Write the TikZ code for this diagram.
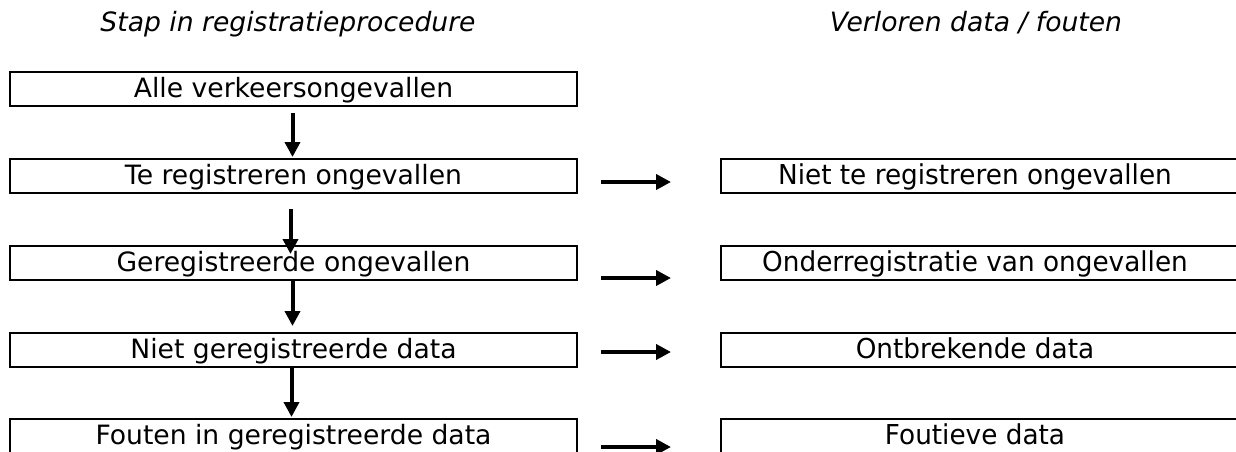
\documentclass[tikz,border=0pt]{standalone}
\usepackage{fontspec}
\setmainfont{DejaVu Sans}
\newfontfamily\narrowfont[FakeStretch=0.96]{DejaVu Sans}
\usetikzlibrary{arrows.meta}
\begin{document}
\begin{tikzpicture}[x=1pt,y=-1pt,
 lbox/.style={draw, line width=2pt, minimum width=567pt, minimum height=34pt, inner sep=0pt, font=\fontsize{26.6}{30}\selectfont, text height=20pt, text depth=4pt},
 rbox/.style={draw, line width=2pt, minimum width=530pt, minimum height=34pt, inner sep=0pt},
 rtext/.style={inner sep=0pt, font=\narrowfont\fontsize{27.4}{30}\selectfont, text height=20pt, text depth=4pt},
 head/.style={inner sep=0pt, font=\fontsize{26.6}{30}\selectfont\itshape, anchor=base},
 flow/.style={line width=4pt, -{Triangle[length=15pt,width=15pt]}}
]
\useasboundingbox (0,0) rectangle (1236,452);
\node[head] (h1) at (288,32) {Stap in registratieprocedure};
\node[head] (h2) at (976,32) {Verloren data / fouten};
\node[lbox] (l1) at (293.5,89) {Alle verkeersongevallen};
\node[lbox] (l2) at (293.5,176) {Te registreren ongevallen};
\node[lbox] (l3) at (293.5,263) {Geregistreerde ongevallen};
\node[lbox] (l4) at (293.5,350) {Niet geregistreerde data};
\node[lbox] (l5) at (293.5,436) {Fouten in geregistreerde data};
\node[rbox] (r2) at (986,176) {};
\node[rbox] (r3) at (986,263) {};
\node[rbox] (r4) at (986,350) {};
\node[rbox] (r5) at (986,436) {};
\node[rtext] (t2) at (975,176) {Niet te registreren ongevallen};
\node[rtext] (t3) at (975,263) {Onderregistratie van ongevallen};
\node[rtext] (t4) at (975,350) {Ontbrekende data};
\node[rtext] (t5) at (975,436) {Foutieve data};
\draw[flow] ([xshift=-1pt,yshift=-6pt]l1.south) -- ([xshift=-1pt,yshift=1pt]l2.north);
\draw[flow] ([xshift=-3pt,yshift=-15pt]l2.south) -- ([xshift=-3pt,yshift=-9pt]l3.north);
\draw[flow] ([xshift=-1pt]l3.south) -- ([xshift=-1pt,yshift=6pt]l4.north);
\draw[flow] ([xshift=-2pt,yshift=2pt]l4.south) -- ([xshift=-2pt,yshift=1pt]l5.north);
\draw[flow] ([xshift=23pt,yshift=-6pt]l2.east) -- ([xshift=-49pt,yshift=-6pt]r2.west);
\draw[flow] ([xshift=23pt,yshift=-15pt]l3.east) -- ([xshift=-49pt,yshift=-15pt]r3.west);
\draw[flow] ([xshift=23pt,yshift=-2pt]l4.east) -- ([xshift=-49pt,yshift=-2pt]r4.west);
\draw[flow] ([xshift=23pt,yshift=-11pt]l5.east) -- ([xshift=-49pt,yshift=-11pt]r5.west);
\end{tikzpicture}
\end{document}
